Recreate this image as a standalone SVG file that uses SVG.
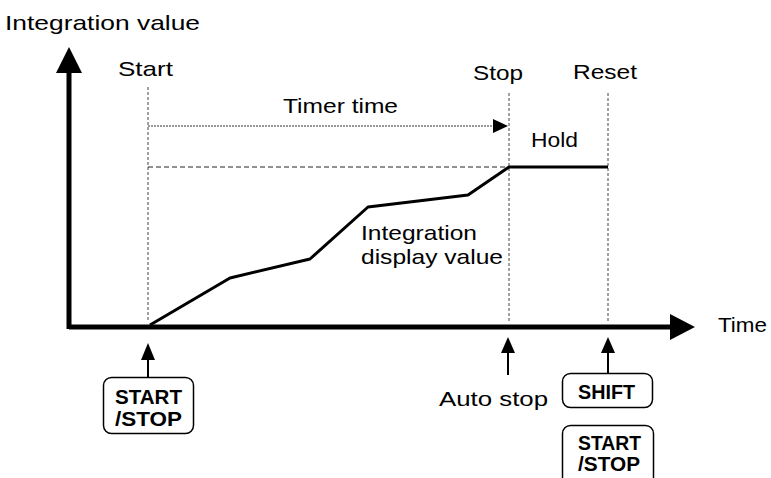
<svg xmlns="http://www.w3.org/2000/svg" width="771" height="478" viewBox="0 0 771 478">
<style>
text{font-family:"Liberation Sans","Noto Sans",Arial,sans-serif;fill:#000}
.lbl{font-size:21px}
.btn{font-size:20px;font-weight:bold}
.axis{stroke:#000;stroke-width:5;fill:none}
.vd{stroke:#444;stroke-width:1;stroke-dasharray:3,2;fill:none}
.hd{stroke:#222;stroke-width:1;stroke-dasharray:5,3;fill:none}
.curve{stroke:#000;stroke-width:3;fill:none;stroke-linejoin:round}
.key{fill:#fff;stroke:#000;stroke-width:1.5}
.stem{stroke:#000;stroke-width:2;fill:none}
</style>
<rect width="771" height="478" fill="#fff"/>
<g id="axes">
<line class="axis" x1="69" y1="327" x2="672" y2="327"/>
<polygon points="670,314 695,327 670,340" fill="#000"/>
<line class="axis" x1="69" y1="329" x2="69" y2="70"/>
<polygon points="56,73 69,47 82,73" fill="#000"/>
<text class="lbl" x="5" y="30" textLength="195" lengthAdjust="spacingAndGlyphs">Integration value</text>
<text class="lbl" x="718" y="332" textLength="49" lengthAdjust="spacingAndGlyphs">Time</text>
</g>
<g id="guides">
<line class="vd" x1="148" y1="87" x2="148" y2="322"/>
<line class="vd" x1="509" y1="93" x2="509" y2="321"/>
<line class="vd" x1="608" y1="93" x2="608" y2="321"/>
<line class="hd" x1="148" y1="167" x2="509" y2="167"/>
<text class="lbl" x="118" y="76" textLength="55" lengthAdjust="spacingAndGlyphs">Start</text>
<text class="lbl" x="473" y="80" textLength="50" lengthAdjust="spacingAndGlyphs">Stop</text>
<text class="lbl" x="573" y="79" textLength="64" lengthAdjust="spacingAndGlyphs">Reset</text>
</g>
<g id="timer">
<line x1="148" y1="126" x2="495" y2="126" stroke="#333" stroke-width="1" stroke-dasharray="2,1"/>
<polygon points="493,119 508,126 493,133" fill="#000"/>
<text class="lbl" x="283" y="113" textLength="115" lengthAdjust="spacingAndGlyphs">Timer time</text>
</g>
<g id="curve">
<polyline class="curve" points="150,325 230,278 310,259 368,207 468,195 509,167 608,167"/>
<text class="lbl" x="531" y="147" textLength="47" lengthAdjust="spacingAndGlyphs">Hold</text>
<text class="lbl" x="361" y="240" textLength="116" lengthAdjust="spacingAndGlyphs">Integration</text>
<text class="lbl" x="361" y="264" textLength="142" lengthAdjust="spacingAndGlyphs">display value</text>
</g>
<g id="start-key">
<line class="stem" x1="148" y1="358" x2="148" y2="377"/>
<polygon points="141,360 148,343 155,360" fill="#000"/>
<rect class="key" x="103.5" y="377.5" width="90" height="56" rx="8"/>
<text class="btn" x="115" y="404" textLength="67" lengthAdjust="spacingAndGlyphs">START</text>
<text class="btn" x="115" y="426" textLength="67" lengthAdjust="spacingAndGlyphs">/STOP</text>
</g>
<g id="auto-stop">
<line class="stem" x1="508" y1="351" x2="508" y2="375"/>
<polygon points="501,353 508,337 515,353" fill="#000"/>
<text class="lbl" x="439" y="406" textLength="109" lengthAdjust="spacingAndGlyphs">Auto stop</text>
</g>
<g id="reset-keys">
<line class="stem" x1="608" y1="351" x2="608" y2="373"/>
<polygon points="601,353 608,337 615,353" fill="#000"/>
<rect class="key" x="562.5" y="373.5" width="90" height="34" rx="8"/>
<text class="btn" x="578" y="399" textLength="57" lengthAdjust="spacingAndGlyphs">SHIFT</text>
<rect class="key" x="562.5" y="425.5" width="91" height="60" rx="8"/>
<text class="btn" x="578" y="450" textLength="63" lengthAdjust="spacingAndGlyphs">START</text>
<text class="btn" x="578" y="471" textLength="62" lengthAdjust="spacingAndGlyphs">/STOP</text>
</g>
</svg>
